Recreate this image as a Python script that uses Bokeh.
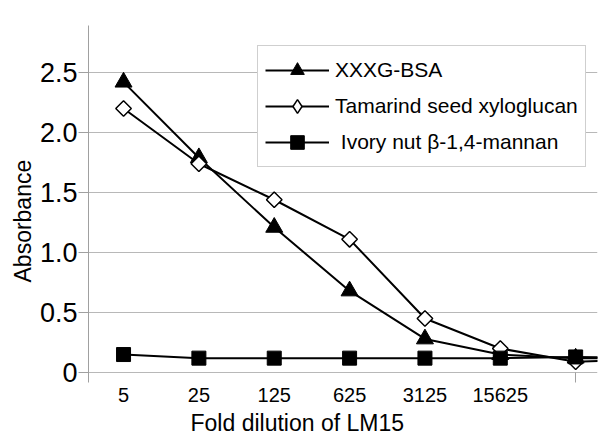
import numpy as np
from bokeh.plotting import figure
from bokeh.models import FixedTicker, Legend, LegendItem, Range1d, Title
from bokeh.embed import file_html
from bokeh.resources import INLINE

# ---- data ----
dilutions = ["5", "25", "125", "625", "3125", "15625", "", ""]
xxxg_bsa = [2.42, 1.79, 1.21, 0.68, 0.28, 0.15, 0.12, 0.12]
tamarind = [2.20, 1.74, 1.44, 1.11, 0.45, 0.20, 0.09, 0.11]
mannan = [0.15, 0.12, 0.12, 0.12, 0.12, 0.12, 0.13, 0.12]
y_ticks = [0, 0.5, 1.0, 1.5, 2.0, 2.5]
y_tick_labels = ["0", "0.5", "1.0", "1.5", "2.0", "2.5"]

xs = list(range(len(dilutions)))
FONT = "Liberation Sans"
GRID = "#b8b8b8"
AX = "#a0a0a0"

p = figure(frame_width=509, frame_height=357,
           x_range=Range1d(-0.465, 6.29), y_range=Range1d(-0.083, 2.892),
           output_backend="svg", toolbar_location=None,
           min_border_left=88, min_border_right=1, min_border_top=25,
           min_border_bottom=62)
p.outline_line_color = None
p.background_fill_color = "white"

# x axis
xa = p.xaxis[0]
xa.ticker = FixedTicker(ticks=xs[:6], minor_ticks=[xs[6]])
xa.major_label_overrides = {i: dilutions[i] for i in xs[:6]}
xa.axis_line_color = None
xa.major_tick_in = 0
xa.major_tick_out = 0
xa.minor_tick_in = 10
xa.minor_tick_out = 0
xa.minor_tick_line_color = AX
xa.major_label_text_font = FONT
xa.major_label_text_font_size = "20px"
xa.major_label_text_color = "black"
xa.major_label_standoff = 5

# y axis
ya = p.yaxis[0]
ya.ticker = FixedTicker(ticks=y_ticks)
ya.major_label_overrides = {t: l for t, l in zip(y_ticks, y_tick_labels)}
ya.axis_line_color = AX
ya.major_tick_line_color = AX
ya.major_tick_in = 0
ya.major_tick_out = 10
ya.minor_tick_line_color = None
ya.major_label_text_font = FONT
ya.major_label_text_font_size = "27px"
ya.major_label_text_color = "black"
ya.major_label_standoff = 1

p.xgrid.grid_line_color = None
p.ygrid.ticker = FixedTicker(ticks=y_ticks)
p.ygrid.grid_line_color = GRID
p.ygrid.grid_line_width = 1

# series
l1 = p.line(xs, xxxg_bsa, line_color="black", line_width=2)
m1 = p.scatter(xs, xxxg_bsa, marker="triangle", size=17, fill_color="black",
               line_color="black")
l2 = p.line(xs, tamarind, line_color="black", line_width=2)
# diamond glyph used for the legend key; sits hidden beneath the open markers
m2_key = p.scatter(xs, tamarind, marker="diamond", size=14,
                   fill_color="white", line_color="black", line_width=1.5)
m2 = p.scatter(xs, tamarind, marker="square", angle=np.pi / 4, size=11,
               fill_color="white", line_color="black", line_width=1.5)
l3 = p.line(xs, mannan, line_color="black", line_width=2)
m3 = p.scatter(xs, mannan, marker="square", size=14, fill_color="black",
               line_color="black")

legend = Legend(items=[
    LegendItem(label="XXXG-BSA", renderers=[l1, m1]),
    LegendItem(label="Tamarind seed xyloglucan", renderers=[l2, m2_key]),
    LegendItem(label=" Ivory nut \u03b2-1,4-mannan", renderers=[l3, m3]),
], location=(169, 215))
legend.label_text_font = FONT
legend.label_text_font_size = "21px"
legend.label_text_color = "black"
legend.glyph_width = 64
legend.glyph_height = 34
legend.label_height = 34
legend.spacing = 2
legend.padding = 7
legend.margin = 0
legend.label_standoff = 6
legend.border_line_color = AX
legend.border_line_width = 1
legend.background_fill_alpha = 1
p.add_layout(legend)

xt = Title(text="Fold dilution of LM15", align="left", offset=102,
           text_font=FONT, text_font_size="23px", text_font_style="normal",
           text_color="black", standoff=6)
p.add_layout(xt, "below")
yt = Title(text="Absorbance", align="left", offset=100,
           text_font=FONT, text_font_size="23px", text_font_style="normal",
           text_color="black", standoff=2)
p.add_layout(yt, "left")

open("out.html", "w").write(file_html(p, INLINE))
